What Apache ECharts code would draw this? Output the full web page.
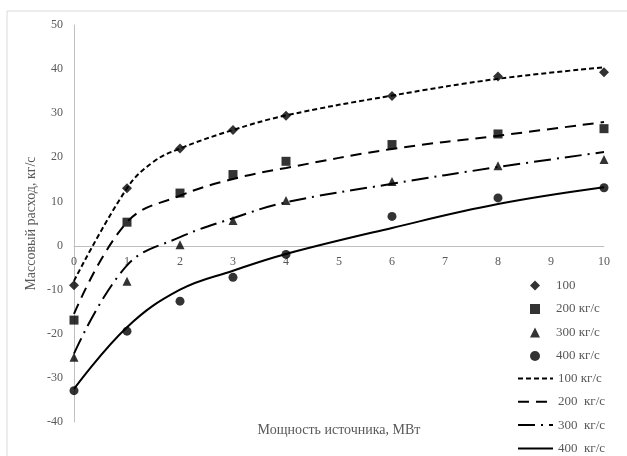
<!DOCTYPE html>
<html>
<head>
<meta charset="utf-8">
<script src="https://cdn.jsdelivr.net/npm/echarts@6/dist/echarts.min.js"></script>
<style>
  html, body { margin: 0; padding: 0; background: #fff; }
  #chart { width: 627px; height: 456px; }
</style>
</head>
<body>
<div id="chart"></div>
<script>
// Measured points: source power (MW) vs mass flow (kg/s)
const powerPoints = [0, 1, 2, 3, 4, 6, 8, 10];
const flow100 = [-9, 13, 22, 26.2, 29.4, 33.9, 38.3, 39.3];
const flow200 = [-16.9, 5.3, 11.9, 16.1, 19.1, 22.9, 25.3, 26.5];
const flow300 = [-25.3, -8.1, 0.2, 5.7, 10.2, 14.5, 18.1, 19.5];
const flow400 = [-32.9, -19.4, -12.6, -7.2, -2.0, 6.6, 10.8, 13.1];

// Calculated curves
const powerCurve100 = [0, 1, 1.5, 2, 3, 4, 6, 8, 10];
const curve100 = [-8, 13, 19, 22, 26.2, 29.5, 34, 37.8, 40.4];
const powerCurve = [0, 1, 2, 3, 4, 6, 8, 10];
const curve200 = [-15.5, 5.3, 11.3, 15.1, 17.6, 21.9, 24.9, 28];
const curve300 = [-24.5, -4.5, 1.9, 6.2, 9.8, 14, 17.8, 21.2];
const curve400 = [-32.5, -18.5, -10, -5.7, -1.9, 4, 9.4, 13.2];

const pointNames = ['100', '200 кг/с', '300 кг/с', '400 кг/с'];
const curveNames = ['100 кг/с', '200  кг/с', '300  кг/с', '400  кг/с'];

const FONT = '"Liberation Serif", "Times New Roman", serif';
const GRAY = '#595959';

const pair = (xs, ys) => xs.map((x, i) => [x, ys[i]]);

const pointSets = [flow100, flow200, flow300, flow400];
const symbols = ['diamond', 'rect', 'triangle', 'circle'];
const symbolSizes = [10, 9, 9, 9];
const curveX = [powerCurve100, powerCurve, powerCurve, powerCurve];
const curveSets = [curve100, curve200, curve300, curve400];
const dashes = [[5, 3], [11, 7], [17, 6, 2, 6], 'solid'];

const series = [];
pointSets.forEach((ys, i) => {
  series.push({
    name: pointNames[i],
    type: 'scatter',
    data: pair(powerPoints, ys),
    symbol: symbols[i],
    symbolSize: symbolSizes[i],
    itemStyle: { color: '#000' },
    z: 3
  });
});
curveSets.forEach((ys, i) => {
  series.push({
    name: curveNames[i],
    type: 'line',
    data: pair(curveX[i], ys),
    smooth: 0.4,
    symbol: 'none',
    lineStyle: { color: '#000', width: 2, type: dashes[i] },
    itemStyle: { color: '#000' },
    z: 2
  });
});

const legendText = { fontFamily: FONT, fontSize: 13, color: GRAY };

const chart = echarts.init(document.getElementById('chart'), null, { renderer: 'canvas' });
chart.setOption({
  animation: false,
  backgroundColor: '#fff',
  textStyle: { fontFamily: FONT },
  graphic: [{
    type: 'rect',
    shape: { x: 7, y: 11, width: 700, height: 500 },
    style: { fill: 'none', stroke: '#d9d9d9', lineWidth: 1 },
    silent: true
  }],
  grid: { left: 74, right: 23, top: 25, bottom: 34, outerBoundsMode: 'none', containLabel: false },
  xAxis: {
    type: 'value',
    min: 0, max: 10, interval: 1,
    position: 'bottom',
    offset: -176,
    name: 'Мощность источника, МВт',
    nameLocation: 'middle',
    nameGap: 177,
    nameMoveOverlap: false,
    nameTextStyle: { fontFamily: FONT, fontSize: 14, color: GRAY },
    axisLine: { onZero: false, lineStyle: { color: '#bfbfbf', width: 1 } },
    axisTick: { show: false },
    splitLine: { show: false },
    axisLabel: { fontFamily: FONT, fontSize: 12, color: GRAY, margin: 10 }
  },
  yAxis: {
    type: 'value',
    min: -40, max: 50, interval: 10,
    name: 'Массовый расход, кг/с',
    nameLocation: 'middle',
    nameGap: 36,
    nameMoveOverlap: false,
    nameTextStyle: { fontFamily: FONT, fontSize: 14, color: GRAY },
    axisLine: { show: true, onZero: false, lineStyle: { color: '#bfbfbf', width: 1 } },
    axisTick: { show: false },
    splitLine: { show: false },
    axisLabel: { fontFamily: FONT, fontSize: 12, color: GRAY, margin: 11 }
  },
  legend: [{
    orient: 'vertical',
    left: 530,
    top: 279,
    padding: 0,
    itemWidth: 10,
    itemHeight: 10,
    itemGap: 10.5,
    data: pointNames,
    textStyle: Object.assign({ padding: [0, 0, 0, 11] }, legendText),
    selectedMode: false
  }, {
    orient: 'vertical',
    left: 517,
    top: 372,
    padding: 0,
    itemWidth: 35,
    itemHeight: 10,
    itemGap: 10.3,
    data: curveNames,
    itemStyle: { color: 'rgba(0,0,0,0)', borderWidth: 0 },
    textStyle: legendText,
    selectedMode: false
  }],
  series: series
});
</script>
</body>
</html>
